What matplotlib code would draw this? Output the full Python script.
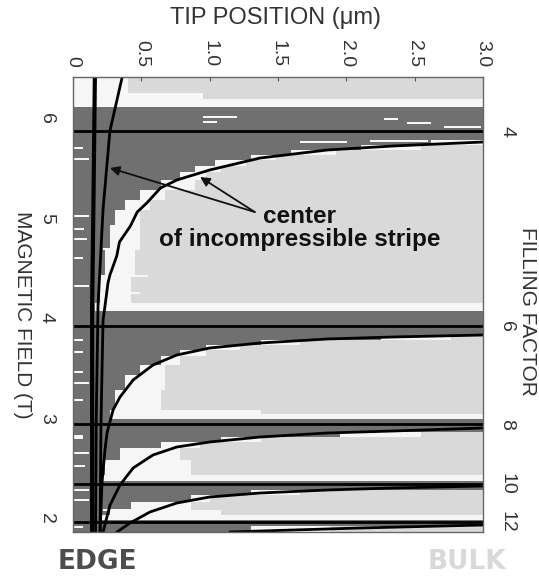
import matplotlib
matplotlib.use('Agg')
import matplotlib.pyplot as plt
import numpy as np
from matplotlib.colors import ListedColormap

plt.rcParams['font.family'] = ['Liberation Sans', 'DejaVu Sans']

# axis ranges: tip position (um), magnetic field (T)
x_range = [0.0, 3.0]
b_range = [1.86, 6.41]

x_ticks = [0, 0.5, 1.0, 1.5, 2.0, 2.5, 3.0]
x_ticklabels = ['0', '0.5', '1.0', '1.5', '2.0', '2.5', '3.0']
b_ticks = [2, 3, 4, 5, 6]
nu_ticks = [4, 6, 8, 10, 12]
nu_field = [5.87, 3.92, 2.94, 2.34, 1.96]

# gray-level map, read row band by row band (top edge of band in T)
band_top = [6.41, 6.25, 6.19, 6.11, 5.87, 5.78, 5.73, 5.68, 5.63, 5.58, 5.52,
            5.46, 5.38, 5.28, 5.18, 5.08, 4.93, 4.68, 4.43, 4.15, 4.07, 3.82,
            3.78, 3.73, 3.68, 3.62, 3.53, 3.43, 3.28, 3.08, 3.04, 2.99, 2.86,
            2.81, 2.76, 2.70, 2.58, 2.43, 2.37, 2.28, 2.23, 2.16, 2.08, 2.03,
            1.98, 1.92]
dark_end = [0.0, 0.0, 0.0, 3.0, 3.0, 2.61, 2.10, 1.59, 1.30, 1.04, 0.89,
            0.78, 0.64, 0.49, 0.38, 0.31, 0.27, 0.23, 0.20, 0.16, 3.0, 2.25,
            1.37, 0.97, 0.78, 0.64, 0.49, 0.38, 0.31, 0.27, 0.27, 3.0, 1.95,
            1.08, 0.64, 0.34, 0.23, 0.20, 3.0, 1.30, 0.86, 0.42, 0.27, 0.20,
            3.0, 1.30]
light_start = [0.40, 0.95, 3.0, 3.0, 3.0, 3.0, 2.54, 1.92, 1.48, 1.26, 1.08,
               0.97, 0.89, 0.67, 0.56, 0.49, 0.49, 0.45, 0.42, 3.0, 3.0, 2.76,
               1.66, 1.22, 0.97, 0.78, 0.67, 0.67, 0.64, 1.37, 3.0, 3.0, 2.54,
               1.37, 0.93, 0.78, 0.86, 3.0, 3.0, 1.66, 1.00, 0.86, 1.08, 3.0,
               3.0, 1.88]

# white scan-line streaks inside the dark parts
streak_b = [6.01, 5.96, 5.99, 5.95, 5.91, 5.76, 5.77, 5.70, 5.59, 5.02, 4.89,
            4.79, 4.69, 4.60, 4.42, 4.32, 4.25, 3.78, 3.66, 3.46, 3.35, 3.18,
            2.82, 2.80, 2.65, 2.52, 2.52, 2.28, 2.18, 2.08, 1.91]
streak_x0 = [0.95, 0.95, 2.27, 2.44, 2.71, 1.66, 2.17, 0.0, 0.0, 0.0, 0.0,
             0.0, 0.22, 0.0, 0.22, 0.0, 0.22, 0.0, 0.0, 0.0, 0.0, 0.0,
             0.0, 0.0, 0.0, 0.0, 0.22, 0.0, 0.0, 0.22, 0.0]
streak_x1 = [1.20, 1.05, 2.37, 2.61, 2.98, 2.00, 2.59, 0.07, 0.12, 0.12, 0.08,
             0.10, 0.32, 0.07, 0.55, 0.12, 0.49, 0.07, 0.07, 0.07, 0.12, 0.07,
             0.07, 0.07, 0.12, 0.09, 0.47, 0.12, 0.12, 0.55, 0.07]

# stripe centre curves (x in um, B in T)
line_a_x = [0.16, 0.15, 0.14, 0.14]
line_a_b = [6.41, 5.20, 4.12, 1.86]
line_b_x = [0.36, 0.27, 0.22, 0.183, 0.17, 0.165]
line_b_b = [6.41, 5.87, 5.09, 4.12, 2.98, 1.86]
nu4_x = [3.0, 2.34, 1.86, 1.37, 1.00, 0.76, 0.64, 0.54, 0.47, 0.42, 0.34,
         0.32, 0.27, 0.256, 0.234, 0.22, 0.205, 0.198]
nu4_b = [5.76, 5.72, 5.68, 5.60, 5.48, 5.38, 5.30, 5.15, 5.06, 4.92, 4.76,
         4.62, 4.43, 4.35, 4.12, 3.98, 2.98, 1.86]
nu6_x = [3.0, 2.34, 1.86, 1.37, 1.00, 0.76, 0.585, 0.44, 0.344, 0.293,
         0.249, 0.234, 0.212, 0.198]
nu6_b = [3.83, 3.81, 3.79, 3.75, 3.70, 3.63, 3.53, 3.38, 3.21, 3.08,
         2.85, 2.68, 2.35, 1.86]
nu8_x = [3.0, 2.34, 1.86, 1.37, 1.00, 0.76, 0.585, 0.44, 0.344, 0.271, 0.22]
nu8_b = [2.90, 2.87, 2.85, 2.81, 2.76, 2.71, 2.63, 2.50, 2.33, 2.13, 1.86]
nu10_x = [3.0, 2.34, 1.86, 1.37, 1.00, 0.76, 0.563, 0.417, 0.322]
nu10_b = [2.32, 2.30, 2.28, 2.25, 2.21, 2.15, 2.06, 1.95, 1.86]
nu12_x = [3.0, 2.10, 1.61, 1.15]
nu12_b = [1.93, 1.90, 1.88, 1.86]

# annotation
label_xy = (1.66, 4.90)
arrow_tail = (1.33, 5.06)
arrow_heads = [(0.27, 5.50), (0.93, 5.41)]

# build the raster: 0 dark, 1 white, 2 light
nx, ny = 600, 455
xs = (np.arange(nx) + 0.5) / nx * (x_range[1] - x_range[0]) + x_range[0]
bs = b_range[1] - (np.arange(ny) + 0.5) / ny * (b_range[1] - b_range[0])
img = np.ones((ny, nx), dtype=int)
tops = band_top + [b_range[0]]
for i in range(len(band_top)):
    rows = np.where((bs <= tops[i]) & (bs > tops[i + 1]))[0]
    img[np.ix_(rows, np.where(xs < dark_end[i])[0])] = 0
    img[np.ix_(rows, np.where(xs >= light_start[i])[0])] = 2
for b, x0, x1 in zip(streak_b, streak_x0, streak_x1):
    rows = np.where(np.abs(bs - b) < 0.013)[0]
    img[np.ix_(rows, np.where((xs >= x0) & (xs <= x1))[0])] = 1

cmap = ListedColormap(['#707070', '#f6f6f6', '#d9d9d9'])

fig = plt.figure(figsize=(5.39, 5.76), dpi=100)
ax = fig.add_axes([73 / 539, 1 - 532 / 576, 410 / 539, 455 / 576])
ax.imshow(img, extent=[x_range[0], x_range[1], b_range[0], b_range[1]],
          aspect='auto', cmap=cmap, vmin=0, vmax=2, interpolation='nearest',
          origin='upper')

for b in nu_field:
    ax.axhline(b, color='black', lw=2)
ax.plot(line_a_x, line_a_b, color='black', lw=3)
for cx, cb in [(line_b_x, line_b_b), (nu4_x, nu4_b), (nu6_x, nu6_b),
               (nu8_x, nu8_b), (nu10_x, nu10_b), (nu12_x, nu12_b)]:
    ax.plot(cx, cb, color='black', lw=2)

ax.text(label_xy[0], label_xy[1], 'center\nof incompressible stripe',
        ha='center', va='center', fontsize=17.5, fontweight='bold',
        color='#111111', linespacing=1.05)
for head in arrow_heads:
    ax.annotate('', xy=head, xytext=arrow_tail,
                arrowprops=dict(arrowstyle='-|>', color='#111111', lw=1.3,
                                mutation_scale=14, shrinkA=0, shrinkB=0))

ax.set_xlim(x_range)
ax.set_ylim(b_range)
ax.xaxis.tick_top()
ax.set_xticks(x_ticks)
ax.set_xticklabels(x_ticklabels, rotation=-90, fontsize=14, color='#333333')
ax.set_yticks(b_ticks)
ax.set_yticklabels([str(t) for t in b_ticks], rotation=-90, fontsize=14,
                   color='#333333', va='center')
ax.tick_params(axis='x', direction='in', length=3, pad=7, color='#555555')
ax.tick_params(axis='y', length=0, pad=13)
for s in ax.spines.values():
    s.set_color('#666666')
    s.set_linewidth(1)

ax2 = ax.twinx()
ax2.set_ylim(b_range)
ax2.set_yticks(nu_field)
ax2.set_yticklabels([str(n) for n in nu_ticks], rotation=-90, fontsize=14,
                    color='#333333', va='center')
ax2.tick_params(axis='y', length=0, pad=11)
for s in ax2.spines.values():
    s.set_visible(False)

fig.text(275 / 539, 1 - 18 / 576, 'TIP POSITION (μm)', ha='center',
         va='center', fontsize=17, color='#333333')
fig.text(22 / 539, 1 - 315 / 576, 'MAGNETIC FIELD (T)', ha='center',
         va='center', rotation=-90, fontsize=15, color='#333333')
fig.text(528 / 539, 1 - 311 / 576, 'FILLING FACTOR', ha='center',
         va='center', rotation=-90, fontsize=15, color='#333333')
fig.text(97 / 539, 1 - 562 / 576, 'EDGE', ha='center', va='center',
         fontsize=19, fontweight='bold', color='#4d4d4d',
         family=['DejaVu Sans'])
fig.text(467 / 539, 1 - 562 / 576, 'BULK', ha='center', va='center',
         fontsize=19, fontweight='bold', color='#d9d9d9',
         family=['DejaVu Sans'])

fig.savefig('out.png', dpi=100)
